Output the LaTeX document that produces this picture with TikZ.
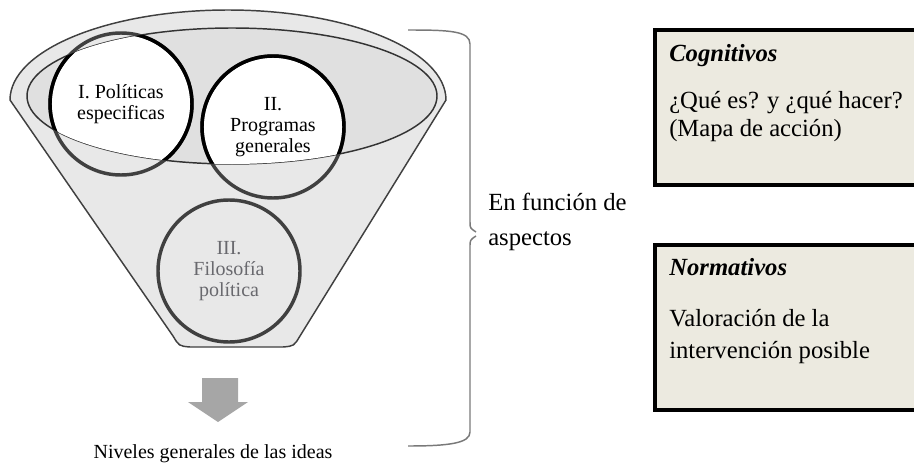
\documentclass[tikz,border=0pt]{standalone}
\usepackage{fontspec}
\setmainfont{Liberation Serif}
\usetikzlibrary{positioning,calc}
\definecolor{rim}       {RGB}{ 64, 64, 64}
\definecolor{funnelgray}{RGB}{232,232,232}
\definecolor{mouthgray} {RGB}{224,224,224}
\definecolor{boxfill}   {RGB}{236,234,224}
\definecolor{fadetext}  {RGB}{105,105,110}
\tikzset{%
  funnel/.style = {
    line width = 1.1pt,
    fill = funnelgray,
    draw = rim,
  },
  mouth/.style = {
    line width = 1.1pt,
    fill = mouthgray,
    draw = rim!80!black,
  },
  level/.style = {
    circle,
    line width = 2.6pt,
    draw = #1,
    minimum size = 106.5pt,
    inner sep = 0pt,
    align = center,
    font = \fontsize{15}{15.5}\selectfont,
  },
  level/.default = {rim},
  aspect/.style = {
    line width = 3pt,
    draw = black,
    fill = boxfill,
    anchor = north west,
    minimum width = 200pt,
    minimum height = #1,
  },
  head/.style = {
    inner sep = 0pt,
    anchor = base west,
    font = \fontsize{18.5}{22}\selectfont\bfseries\itshape,
  },
  body/.style = {
    inner sep = 0pt,
    anchor = base west,
    align = left,
    font = \fontsize{18.5}{#1}\selectfont,
  },
  body/.default = {21pt},
}

\begin{document}
\begin{tikzpicture}[x=0.75pt, y=-0.75pt]
  \useasboundingbox (0,0) rectangle (914,471);
  % funnel
  \draw[funnel] (10,100) arc[start angle=180, end angle=360, x radius=218, y radius=90]
    -- (300,336) .. controls (294,346) .. (283,347) -- (190,347)
    .. controls (179,346) .. (173,336) -- cycle;
  \draw[mouth] (232,96) ellipse[x radius=205, y radius=68];
  \coordinate (pI)   at (121,104);
  \coordinate (pII)  at (273,127);
  \coordinate (pIII) at (229,271);
  \begin{scope}
    \clip (232,96) ellipse[x radius=205, y radius=68];
    \fill[white] (pI) circle[radius=71] (pII) circle[radius=71];
  \end{scope}
  % levels
  \node[level] (lI)   at (pI)   {I. Políticas\\especificas};
  \node[level] (lII)  at (pII)  {II.\\Programas\\generales};
  \node[level, text=fadetext] (lIII) at (pIII) {III.\\Filosofía\\política};
  \begin{scope}
    \clip (232,96) ellipse[x radius=205, y radius=68];
    \draw[line width=2.6pt] (lI.center) circle[radius=71] (lII.center) circle[radius=71];
  \end{scope}
  % arrow and caption
  \fill[black!35] (202,378) -- (238,378) -- (238,402) -- (248,402) -- (218,422)
    -- (188,402) -- (202,402) -- cycle;
  \node[inner sep=0pt, anchor=base, font=\fontsize{15}{18}\selectfont] (ideas) at (213,458)
    {Niveles generales de las ideas};
  % brace
  \draw[rim!70, line width=1.1pt]
    (408,30) .. controls (450,30) and (470,31) .. (470,44) -- (470,222)
    .. controls (470,228) .. (476,232)
    (476,236) .. controls (470,240) .. (470,247) -- (470,432)
    .. controls (470,443) and (450,446) .. (408,446);
  \node[body=26pt, anchor=north west] (func) at (488,193) {En función de\\aspectos};
  % aspects
  \node[aspect=116pt] (cog) at (653,28) {};
  \node[head] (cogt) at (669,61) {Cognitivos};
  \node[body] (cogb) at (669,136) {¿Qué es? y ¿qué hacer?\\(Mapa de acción)};
  \node[aspect=124pt] (norm) at (653,243) {};
  \node[head] (normt) at (669,275) {Normativos};
  \node[body=24pt] (normb) at (669,358) {Valoración de la\\intervención posible};
\end{tikzpicture}
\end{document}
